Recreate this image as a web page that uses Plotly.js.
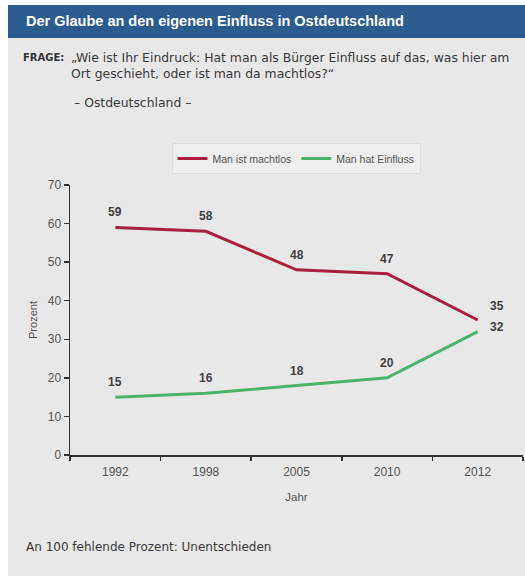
<!DOCTYPE html>
<html>
<head>
<meta charset="utf-8">
<script src="https://cdn.plot.ly/plotly-3.0.1.min.js"></script>
<style>
  html, body { margin: 0; padding: 0; background: #ffffff; }
  #chart { position: absolute; left: 8px; top: 5px; width: 517px; height: 571px; }
</style>
</head>
<body>
<div id="chart"></div>
<script>
// ---- data ----
const years = ['1992', '1998', '2005', '2010', '2012'];
const machtlos = [59, 58, 48, 47, 35];
const einfluss = [15, 16, 18, 20, 32];
const seriesNames = ['Man ist machtlos', 'Man hat Einfluss'];
const yTicks = [0, 10, 20, 30, 40, 50, 60, 70];

const titleText = 'Der Glaube an den eigenen Einfluss in Ostdeutschland';
const questionLabel = 'FRAGE:';
const questionLine1 = '„Wie ist Ihr Eindruck: Hat man als Bürger Einfluss auf das, was hier am';
const questionLine2 = 'Ort geschieht, oder ist man da machtlos?“';
const regionText = '– Ostdeutschland –';
const footerText = 'An 100 fehlende Prozent: Unentschieden';

// ---- geometry helpers (page pixel -> paper coords) ----
const W = 517, H = 571, offX = 8, offY = 5;
const M = { l: 62, r: 2, t: 180, b: 121 };
const plotW = W - M.l - M.r, plotH = H - M.t - M.b;
const px = X => (X - offX - M.l) / plotW;
const py = Y => (H - M.b - (Y - offY)) / plotH;

const RED = '#ab1f3e', GREEN = '#4bb36a', BLUE = '#2c5b8e';
const FONT = 'Liberation Sans, Arial, sans-serif';
const WIDE = 'DejaVu Sans, Verdana, sans-serif';

const traces = [
  { x: years, y: machtlos, name: seriesNames[0], type: 'scatter', mode: 'lines',
    line: { color: RED, width: 3 }, hoverinfo: 'skip' },
  { x: years, y: einfluss, name: seriesNames[1], type: 'scatter', mode: 'lines',
    line: { color: GREEN, width: 3 }, hoverinfo: 'skip' }
];

const annotations = [];
function addLabels(vals, lastShift) {
  vals.forEach((v, i) => {
    const last = i === vals.length - 1;
    annotations.push({
      x: i, y: v, xref: 'x', yref: 'y', text: '<b>' + v + '</b>', showarrow: false,
      xanchor: 'center', yanchor: 'middle',
      xshift: last ? 19 : 0, yshift: last ? lastShift : 15,
      font: { family: FONT, size: 12, color: '#3f3f3f' }
    });
  });
}
addLabels(machtlos, 14);
addLabels(einfluss, 5);

const txt = (text, X, Y, size, color, family) => ({
  text: text, x: px(X), y: py(Y), xref: 'paper', yref: 'paper', showarrow: false,
  xanchor: 'left', yanchor: 'middle', font: { family: family || FONT, size: size, color: color }
});

annotations.push(txt('<b>' + titleText + '</b>', 24, 21, 14.5, '#ffffff'));
annotations.push(txt('<b>' + questionLabel + '</b>', 21, 57, 10, '#333333', WIDE));
annotations.push(txt(questionLine1, 69, 57, 12.4, '#3a3a3a', WIDE));
annotations.push(txt(questionLine2, 69, 73, 12.4, '#3a3a3a', WIDE));
annotations.push(txt(regionText, 72, 103, 12.4, '#3a3a3a', WIDE));
annotations.push(txt(footerText, 24, 547, 12, '#3a3a3a', WIDE));

const shapes = [
  { type: 'rect', xref: 'paper', yref: 'paper', x0: px(8), x1: px(525), y0: py(5), y1: py(38),
    fillcolor: BLUE, line: { width: 0 }, layer: 'below' }
];

const layout = {
  width: W, height: H,
  margin: M,
  paper_bgcolor: '#e8e8e8', plot_bgcolor: '#e8e8e8',
  font: { family: FONT, color: '#555' },
  showlegend: true,
  legend: {
    orientation: 'h', x: px(296), xanchor: 'center', y: py(143), yanchor: 'top',
    bgcolor: '#eeeeee', bordercolor: '#dcdcdc', borderwidth: 1,
    font: { family: FONT, size: 10.5, color: '#555' }
  },
  xaxis: {
    type: 'category', range: [-0.5, 4.5], tickson: 'boundaries',
    showline: true, linecolor: '#333', linewidth: 1.5,
    ticks: 'outside', ticklen: 4, tickcolor: '#333', tickwidth: 1.5,
    ticklabelstandoff: 5,
    showgrid: false, zeroline: false, fixedrange: true,
    tickfont: { family: FONT, size: 12, color: '#555' },
    title: { text: 'Jahr', font: { family: FONT, size: 11.5, color: '#555' }, standoff: 15 }
  },
  yaxis: {
    range: [0, 70], tickvals: yTicks,
    showline: true, linecolor: '#333', linewidth: 1.5,
    ticks: 'outside', ticklen: 5, tickcolor: '#333', tickwidth: 1.5,
    showgrid: false, zeroline: false, fixedrange: true,
    tickfont: { family: FONT, size: 12, color: '#555' },
    title: { text: 'Prozent', font: { family: FONT, size: 11, color: '#555' }, standoff: 8 }
  },
  annotations: annotations,
  shapes: shapes
};

Plotly.newPlot('chart', traces, layout, { staticPlot: true, displayModeBar: false });
</script>
</body>
</html>
